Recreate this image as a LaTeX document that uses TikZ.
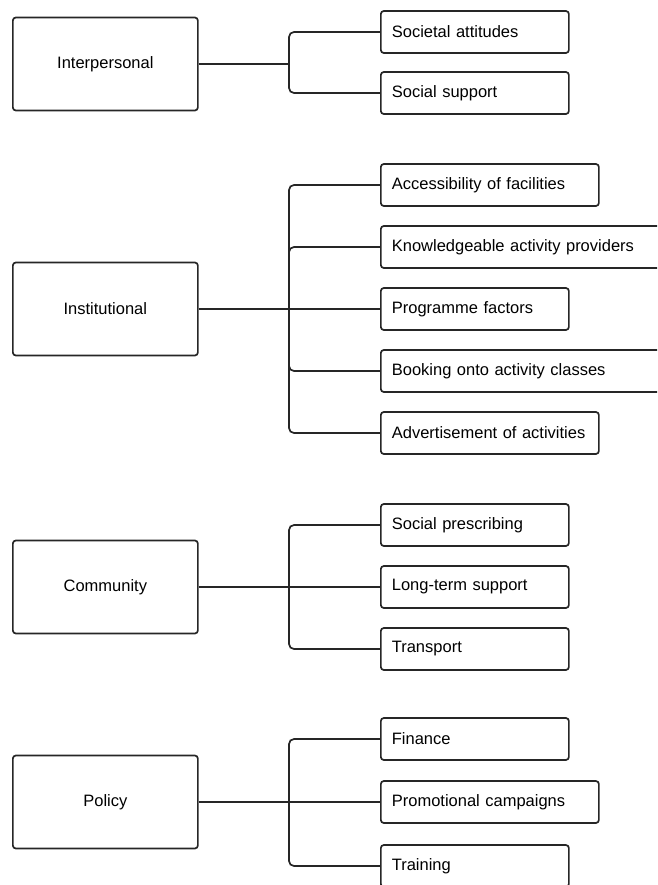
\documentclass[tikz,border=0pt]{standalone}
\usepackage{fontspec}
\setmainfont{Liberation Sans}
\usetikzlibrary{positioning}
\begin{document}
\begin{tikzpicture}[x=1pt, y=-1pt, line width=1.7pt, draw=black!85,
  level/.style={draw=black!85, rounded corners=3pt, minimum width=185pt,
    minimum height=93pt, anchor=west, font=\fontsize{16.5}{20}\selectfont},
  factor/.style={draw=black!85, rounded corners=3pt, minimum height=42pt,
    anchor=west, align=left, inner xsep=11pt,
    font=\fontsize{16.5}{20}\selectfont},
  fshort/.style={factor, text width=166pt},
  fmid/.style={factor, text width=196pt},
  flong/.style={factor, text width=290pt},
  link/.style={rounded corners=5pt}]
  \useasboundingbox (0,0) rectangle (657,885);
  \clip (0,0) rectangle (657,885);
  % Interpersonal
  \node[level] (ip) at (12,64) {Interpersonal};
  \node[fshort] (sa) at (380,32) {Societal attitudes};
  \node[fshort] (ss) at (380,93) {Social support};
  \coordinate (ipj) at (289,64);
  \draw (ip.east) -- (ipj);
  \draw[link] (ipj) |- (sa.west);
  \draw[link] (ipj) |- (ss.west);
  % Institutional
  \node[level] (in) at (12,309) {Institutional};
  \node[fmid] (af) at (380,185) {Accessibility of facilities};
  \node[flong] (kp) at (380,247) {Knowledgeable activity providers};
  \node[fshort] (pf) at (380,309) {Programme factors};
  \node[flong] (bc) at (380,371) {Booking onto activity classes};
  \node[fmid] (aa) at (380,433) {Advertisement of activities};
  \coordinate (inj) at (289,309);
  \draw (in.east) -- (inj) -- (pf.west);
  \draw[link] (inj) |- (af.west);
  \draw[link] (inj) |- (kp.west);
  \draw[link] (inj) |- (bc.west);
  \draw[link] (inj) |- (aa.west);
  % Community
  \node[level] (cm) at (12,587) {Community};
  \node[fshort] (sp) at (380,525) {Social prescribing};
  \node[fshort] (lt) at (380,587) {Long-term support};
  \node[fshort] (tr) at (380,649) {Transport};
  \coordinate (cmj) at (289,587);
  \draw (cm.east) -- (cmj) -- (lt.west);
  \draw[link] (cmj) |- (sp.west);
  \draw[link] (cmj) |- (tr.west);
  % Policy
  \node[level] (po) at (12,802) {Policy};
  \node[fshort] (fi) at (380,739) {Finance};
  \node[fmid] (pc) at (380,802) {Promotional campaigns};
  \node[fshort] (tg) at (380,866) {Training};
  \coordinate (poj) at (289,802);
  \draw (po.east) -- (poj) -- (pc.west);
  \draw[link] (poj) |- (fi.west);
  \draw[link] (poj) |- (tg.west);
\end{tikzpicture}
\end{document}
